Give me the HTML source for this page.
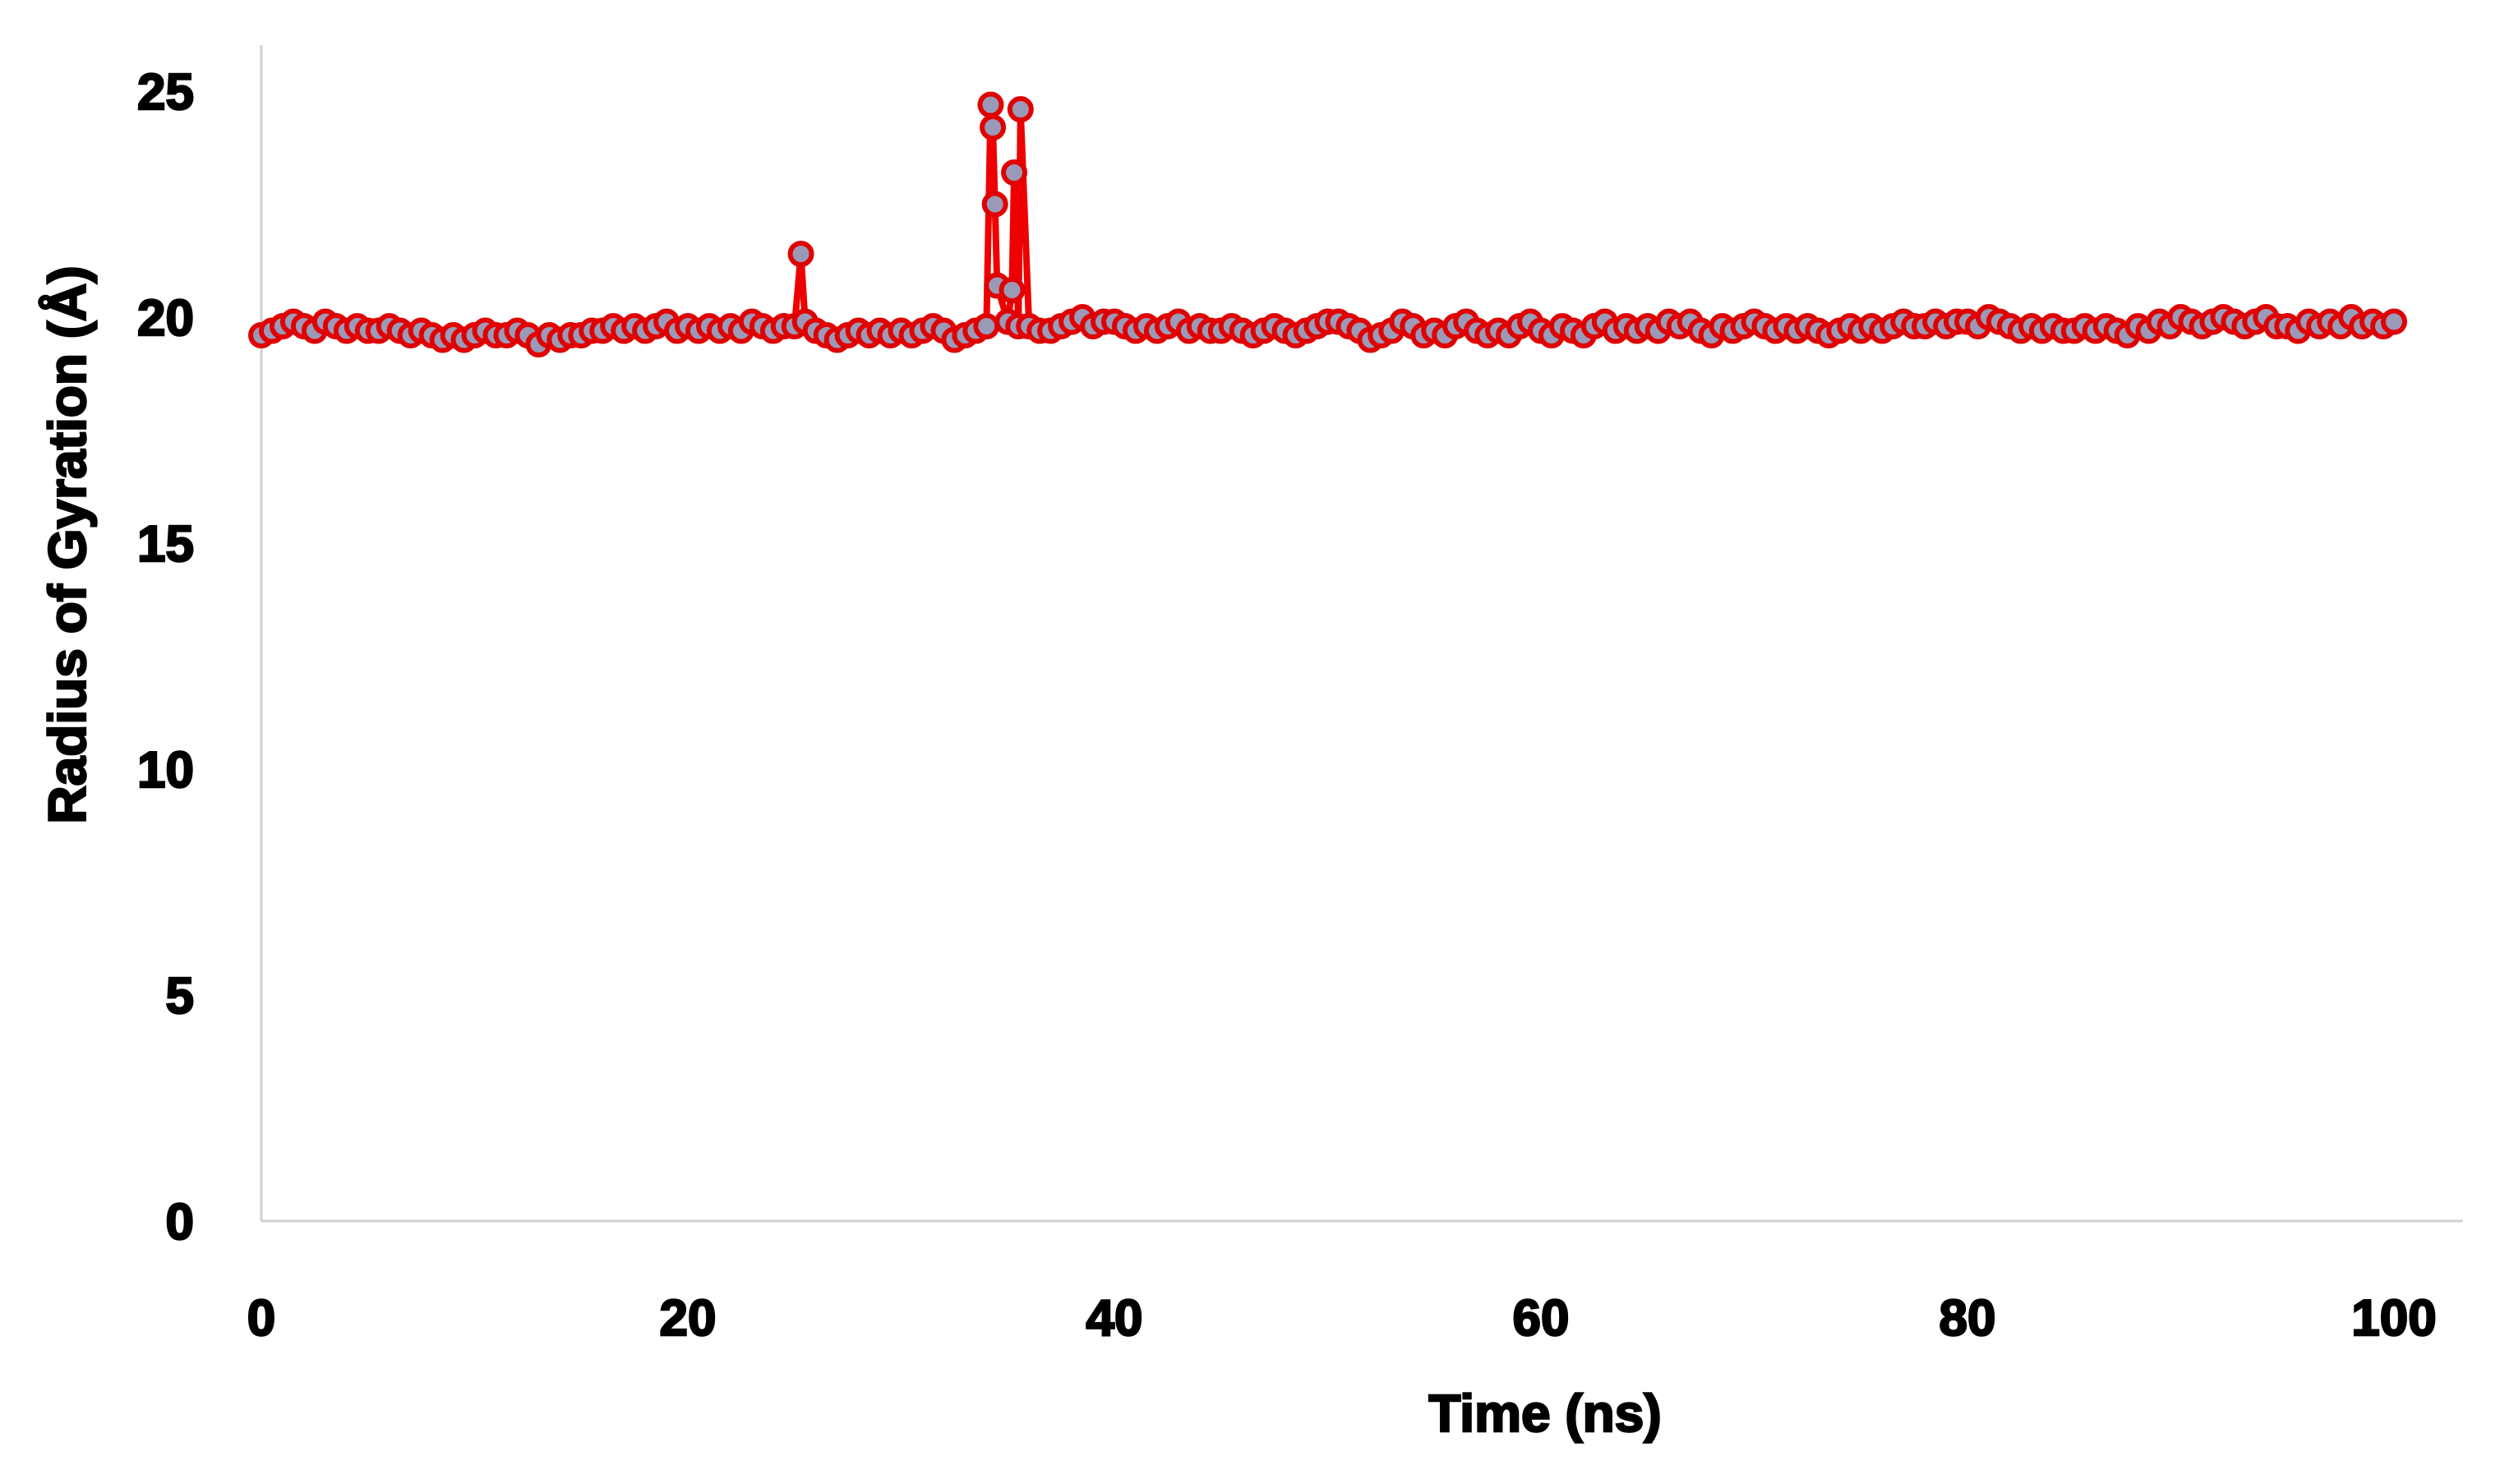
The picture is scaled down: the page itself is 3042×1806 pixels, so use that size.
<!DOCTYPE html>
<html><head><meta charset="utf-8"><style>
html,body{margin:0;padding:0;background:#fff;}
svg{display:block;}
text{font-family:"Liberation Sans",Arial,sans-serif;font-weight:bold;fill:#000;stroke:#000;stroke-width:2.5;}
</style></head><body>
<svg id="chart" width="3042" height="1806" viewBox="0 0 3042 1806" xmlns="http://www.w3.org/2000/svg">
<g id="axes"></g>
<g id="series"></g>
<text x="1880" y="1742" font-size="64" text-anchor="middle">Time (ns)</text>
<text x="0" y="0" font-size="64" text-anchor="middle" transform="translate(104,663) rotate(-90)">Radius of Gyration (Å)</text>
</svg>
<script>
const xTicks = [0,20,40,60,80,100];
const yTicks = [0,5,10,15,20,25];
const time = [
0,0.5,1,1.5,2,2.5,3,3.5,4,4.5,
5,5.5,6,6.5,7,7.5,8,8.5,9,9.5,
10,10.5,11,11.5,12,12.5,13,13.5,14,14.5,
15,15.5,16,16.5,17,17.5,18,18.5,19,19.5,
20,20.5,21,21.5,22,22.5,23,23.5,24,24.5,
25,25.3,25.5,26,26.5,27,27.5,28,28.5,29,29.5,
30,30.5,31,31.5,32,32.5,33,33.5,34,34.2,34.3,34.4,34.5,35,35.2,35.3,35.5,35.6,36,36.5,
37,37.5,38,38.5,39,39.5,
40,40.5,41,41.5,42,42.5,43,43.5,44,44.5,
45,45.5,46,46.5,47,47.5,48,48.5,49,49.5,
50,50.5,51,51.5,52,52.5,53,53.5,54,54.5,
55,55.5,56,56.5,57,57.5,58,58.5,59,59.5,
60,60.5,61,61.5,62,62.5,63,63.5,64,64.5,
65,65.5,66,66.5,67,67.5,68,68.5,69,69.5,
70,70.5,71,71.5,72,72.5,73,73.5,74,74.5,
75,75.5,76,76.5,77,77.5,78,78.5,79,79.5,
80,80.5,81,81.5,82,82.5,83,83.5,84,84.5,
85,85.5,86,86.5,87,87.5,88,88.5,89,89.5,
90,90.5,91,91.5,92,92.5,93,93.5,94,94.5,
95,95.5,96,96.5,97,97.5,98,98.5,99,99.5,100];
const rg = [
19.6,19.7,19.8,19.9,19.8,19.7,19.9,19.8,19.7,19.8,
19.7,19.7,19.8,19.7,19.6,19.7,19.6,19.5,19.6,19.5,
19.6,19.7,19.6,19.6,19.7,19.6,19.4,19.6,19.5,19.6,
19.6,19.7,19.7,19.8,19.7,19.8,19.7,19.8,19.9,19.7,
19.8,19.7,19.8,19.7,19.8,19.7,19.9,19.8,19.7,19.8,
19.8,21.4,19.9,19.7,19.6,19.5,19.6,19.7,19.6,19.7,19.6,
19.7,19.6,19.7,19.8,19.7,19.5,19.6,19.7,19.8,24.7,24.2,22.5,20.7,19.9,20.6,23.2,19.8,24.6,19.8,19.7,
19.7,19.8,19.9,20.0,19.8,19.9,
19.9,19.8,19.7,19.8,19.7,19.8,19.9,19.7,19.8,19.7,
19.7,19.8,19.7,19.6,19.7,19.8,19.7,19.6,19.7,19.8,
19.9,19.9,19.8,19.7,19.5,19.6,19.7,19.9,19.8,19.6,
19.7,19.6,19.8,19.9,19.7,19.6,19.7,19.6,19.8,19.9,
19.7,19.6,19.8,19.7,19.6,19.8,19.9,19.7,19.8,19.7,
19.8,19.7,19.9,19.8,19.9,19.7,19.6,19.8,19.7,19.8,
19.9,19.8,19.7,19.8,19.7,19.8,19.7,19.6,19.7,19.8,
19.7,19.8,19.7,19.8,19.9,19.8,19.8,19.9,19.8,19.9,
19.9,19.8,20.0,19.9,19.8,19.7,19.8,19.7,19.8,19.7,
19.7,19.8,19.7,19.8,19.7,19.6,19.8,19.7,19.9,19.8,
20.0,19.9,19.8,19.9,20.0,19.9,19.8,19.9,20.0,19.8,
19.8,19.7,19.9,19.8,19.9,19.8,20.0,19.8,19.9,19.8,19.9];

const X0 = 318, XS = 25.95, Y0 = 1486, YS = 55;
function xs(t){ return X0 + t*XS; }
function ys(v){ return Y0 - v*YS; }
const NS = "http://www.w3.org/2000/svg";
const axes = document.getElementById('axes');
const ser = document.getElementById('series');
function mk(tag, attrs, parent){
  const e = document.createElementNS(NS, tag);
  for (const k in attrs) e.setAttribute(k, attrs[k]);
  parent.appendChild(e); return e;
}
let l1 = mk('line',{x1:X0,y1:55,x2:X0,y2:Y0,stroke:'#d0d0d0','stroke-width':3},axes);


let l2 = mk('line',{x1:X0,y1:Y0,x2:2997,y2:Y0,stroke:'#d0d0d0','stroke-width':3},axes);


yTicks.forEach(v=>{
  const t = mk('text',{x:236,y:ys(v)+22,'font-size':62,'text-anchor':'end'},axes);
  t.textContent = v;
  
  
});
xTicks.forEach(v=>{
  const t = mk('text',{x:xs(v),y:1625,'font-size':62,'text-anchor':'middle'},axes);
  t.textContent = v;
  
  
});
const pts = time.map((t,i)=>xs(t).toFixed(1)+','+ys(rg[i]).toFixed(1)).join(' ');
const pl = mk('polyline',{points:pts,fill:'none',stroke:'#ee0000','stroke-width':8,'stroke-linejoin':'round'},ser);


time.forEach((t,i)=>{
  const c = mk('circle',{cx:xs(t),cy:ys(rg[i]),r:13,fill:'#9a9ab8',stroke:'#e00000','stroke-width':6},ser);
  
  
});
</script>
</body></html>
